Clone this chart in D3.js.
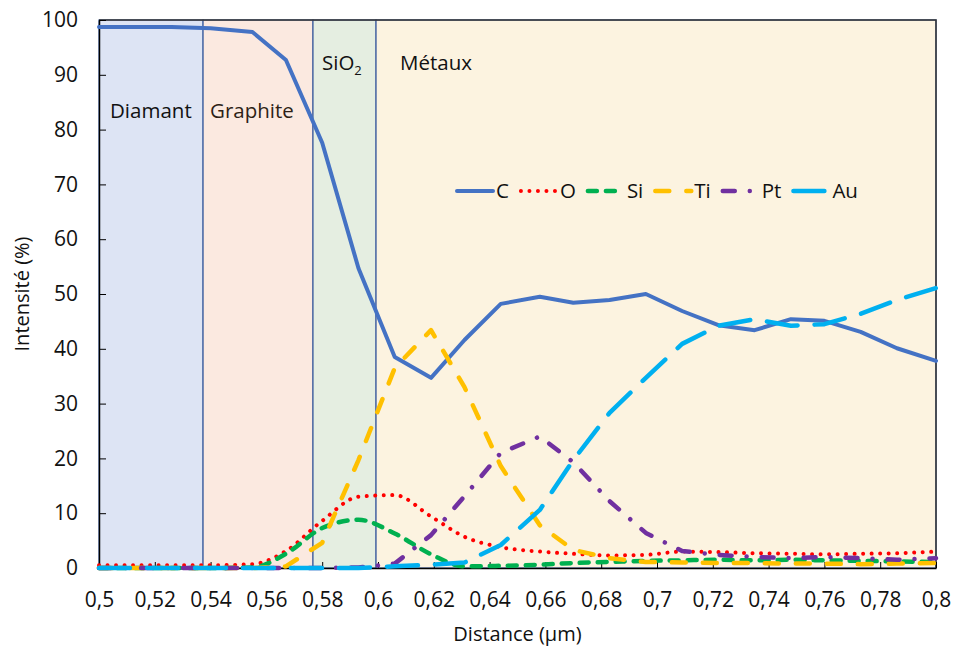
<!DOCTYPE html>
<html>
<head>
<meta charset="utf-8">
<title>Profil d'intensité</title>
<script src="https://d3js.org/d3.v7.min.js"></script>
<style>
  body { margin: 0; background: #fff; }
  text { font-family: "Open Sans", sans-serif; fill: #111; }
</style>
</head>
<body>
<div id="chart"></div>
<script>
// distances (µm) of the profile points
var distance = [0.500, 0.513, 0.526, 0.540, 0.555, 0.567, 0.580, 0.593, 0.606, 0.619, 0.631, 0.644,
                0.658, 0.670, 0.683, 0.696, 0.709, 0.722, 0.735, 0.748, 0.760, 0.773, 0.786, 0.800]
// intensities (%) per element
var C  = [98.7, 98.7, 98.7, 98.5, 97.8, 92.7, 77.6, 54.7, 38.5, 34.7, 41.6, 48.2,
          49.5, 48.4, 48.9, 50.0, 46.9, 44.3, 43.4, 45.4, 45.1, 43.1, 40.1, 37.8]
var O  = [0.5, 0.5, 0.5, 0.5, 0.7, 3.1, 8.6, 13.0, 13.3, 9.4, 5.7, 3.8,
          3.0, 2.6, 2.3, 2.4, 3.0, 2.9, 2.7, 2.6, 2.5, 2.6, 2.7, 3.0]
var Si = [0, 0, 0, 0, 0.1, 2.6, 7.3, 8.8, 6.3, 2.5, 0.3, 0.4,
          0.6, 0.9, 1.1, 1.3, 1.4, 1.5, 1.4, 1.5, 1.4, 1.3, 1.2, 1.1]
var Ti = [0, 0, 0, 0, 0, 0.3, 4.6, 19.7, 36.5, 43.4, 33.0, 18.6,
          7.8, 3.3, 1.8, 1.1, 1.0, 0.9, 0.9, 0.8, 0.8, 0.7, 0.8, 0.9]
var Pt = [0, 0, 0, 0, 0, 0, 0, 0.1, 0.8, 6.0, 13.1, 21.0,
          24.0, 19.3, 12.2, 6.4, 3.1, 2.4, 2.0, 1.8, 2.0, 1.8, 1.5, 1.8]
var Au = [0, 0, 0, 0, 0, 0, 0, 0, 0.3, 0.6, 1.0, 4.2,
          10.6, 19.7, 28.3, 34.7, 40.9, 44.2, 45.4, 44.2, 44.5, 46.4, 48.9, 51.1]

// layers of the sample
var regionNames = ["Diamant", "Graphite", "SiO2", "Métaux"]
var regionStart = [0.5, 0.5373, 0.5767, 0.5993]
var regionEnd   = [0.5373, 0.5767, 0.5993, 0.8]

var xTicks = [0.5, 0.52, 0.54, 0.56, 0.58, 0.6, 0.62, 0.64, 0.66, 0.68, 0.7, 0.72, 0.74, 0.76, 0.78, 0.8]
var yTicks = [0, 10, 20, 30, 40, 50, 60, 70, 80, 90, 100]

var width = 956, height = 648
var margin = {top: 20, right: 20, bottom: 80, left: 99}

var svg = d3.select("#chart").append("svg")
    .attr("width", width)
    .attr("height", height)

var x = d3.scaleLinear().domain([0.5, 0.8]).range([margin.left, width - margin.right])
var y = d3.scaleLinear().domain([0, 100]).range([height - margin.bottom, margin.top])

// region backgrounds
var regionFill = ["#dde4f4", "#fbe9e0", "#e5eee1", "#fcf3e0"]
var regionTextColor = ["#111", "#2e1f16", "#111", "#111"]

svg.selectAll("rect.region")
  .data(regionNames)
  .enter().append("rect")
    .attr("class", "region")
    .attr("x", function(d, i) { return x(regionStart[i]) })
    .attr("y", y(100))
    .attr("width", function(d, i) { return x(regionEnd[i]) - x(regionStart[i]) })
    .attr("height", y(0) - y(100))
    .style("fill", function(d, i) { return regionFill[i] })
    .style("stroke", "#3d5d9e")
    .style("stroke-width", 1.2)

// plot frame (top + right)
svg.append("path")
    .attr("d", "M" + x(0.5) + "," + y(100) + "H" + x(0.8) + "V" + y(0))
    .style("fill", "none")
    .style("stroke", "#333")
    .style("stroke-width", 1.5)

// region labels
var labelPos = [{dx: 11, y: 118}, {dx: 7, y: 118}, {dx: 9, y: 70}, {dx: 24, y: 70}]
regionNames.forEach(function(name, i) {
  var t = svg.append("text")
      .attr("x", x(regionStart[i]) + labelPos[i].dx)
      .attr("y", labelPos[i].y)
      .style("font-size", "20.5px")
      .style("fill", regionTextColor[i])
  if (name == "SiO2") {
    t.append("tspan").text("SiO")
    t.append("tspan").text("2").attr("dy", 5).style("font-size", "13px")
  } else {
    t.text(name)
  }
})

// axes
var fmt = function(d) { return String(+d.toFixed(2)).replace(".", ",") }

var yAxis = svg.append("g")
    .attr("transform", "translate(" + x(0.5) + ",0)")
    .call(d3.axisLeft(y).tickValues(yTicks).tickSize(-7).tickPadding(21).tickSizeOuter(0))
yAxis.select(".domain").style("stroke", "#000").style("stroke-width", 1.5)
yAxis.selectAll("text").style("font-size", "21px").style("fill", "#111")

var xAxis = svg.append("g")
    .attr("transform", "translate(0," + y(0) + ")")
    .call(d3.axisBottom(x).tickValues(xTicks).tickFormat(fmt).tickSize(-6).tickPadding(24).tickSizeOuter(0))
xAxis.select(".domain").style("stroke", "#000").style("stroke-width", 1.5)
xAxis.selectAll("text").style("font-size", "21px").style("fill", "#111")

svg.append("text")
    .attr("x", (x(0.5) + x(0.8)) / 2)
    .attr("y", 641)
    .attr("text-anchor", "middle")
    .style("font-size", "20px")
    .text("Distance (µm)")

svg.append("text")
    .attr("transform", "translate(29," + y(50) + ") rotate(-90)")
    .attr("text-anchor", "middle")
    .style("font-size", "20px")
    .text("Intensité (%)")

// series
var series = [
  {name: "C",  values: C,  color: "#4472C4", width: 4,   dash: null,          curve: d3.curveLinear},
  {name: "O",  values: O,  color: "#FF0000", width: 4,   dash: "0.01 8.5",    curve: d3.curveMonotoneX},
  {name: "Si", values: Si, color: "#00B050", width: 4.5, dash: "9 9",         curve: d3.curveMonotoneX},
  {name: "Ti", values: Ti, color: "#FFC000", width: 4.5, dash: "14 17",       curve: d3.curveLinear},
  {name: "Pt", values: Pt, color: "#7030A0", width: 4.5, dash: "12 15 0.01 15", curve: d3.curveLinear},
  {name: "Au", values: Au, color: "#00B0F0", width: 4.5, dash: "31 17",       curve: d3.curveLinear}
]

series.forEach(function(s) {
  var line = d3.line()
      .x(function(d, i) { return x(distance[i]) })
      .y(function(d) { return y(d) })
      .curve(s.curve)
  svg.append("path")
      .datum(s.values)
      .attr("d", line)
      .style("fill", "none")
      .style("stroke", s.color)
      .style("stroke-width", s.width)
      .style("stroke-linecap", "round")
      .style("stroke-linejoin", "round")
      .style("stroke-dasharray", s.dash)
})

// legend
var lx = 457, ly = 191
series.forEach(function(s) {
  svg.append("line")
      .attr("x1", lx).attr("x2", lx + 36)
      .attr("y1", ly).attr("y2", ly)
      .style("stroke", s.color)
      .style("stroke-width", s.width)
      .style("stroke-linecap", "round")
      .style("stroke-dasharray", s.dash)
  var t = svg.append("text")
      .attr("x", lx + 39)
      .attr("y", ly + 7)
      .style("font-size", "20.5px")
      .text(s.name)
  lx = lx + 39 + t.node().getComputedTextLength() + 12
})
</script>
</body>
</html>
